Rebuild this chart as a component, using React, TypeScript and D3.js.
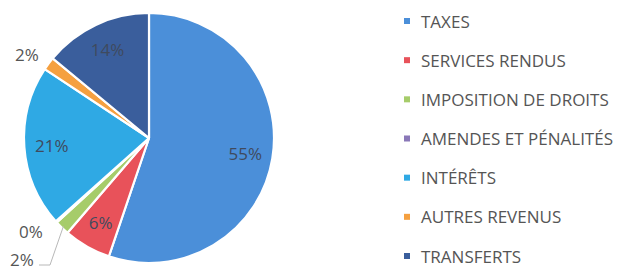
import React from "react";
import * as d3 from "d3";

const categories = [
  "TAXES",
  "SERVICES RENDUS",
  "IMPOSITION DE DROITS",
  "AMENDES ET PÉNALITÉS",
  "INTÉRÊTS",
  "AUTRES REVENUS",
  "TRANSFERTS",
];
const values = [55.2, 6.1, 1.9, 0.2, 20.9, 1.7, 14.0];
const labels = ["55%", "6%", "2%", "0%", "21%", "2%", "14%"];
const colors = ["#4B8FD9", "#E8525A", "#A6CC6A", "#8A78B8", "#2FA9E4", "#F5A040", "#3A5E9C"];

const W = 632;
const H = 270;
const cx = 149;
const cy = 138;
const R = 125;

export default function App() {
  const pie = d3.pie<number>().sort(null).value((d) => d);
  const arcs = pie(values);
  const arc = d3.arc<d3.PieArcDatum<number>>().innerRadius(0).outerRadius(R);
  const labelArc = d3.arc<d3.PieArcDatum<number>>().innerRadius(R * 0.78).outerRadius(R * 0.78);

  const outsidePos: Record<number, [number, number]> = {
    5: [27, 54],
    3: [31, 231],
    2: [22, 259],
  };

  const legendY = d3.scalePoint<number>().domain(d3.range(categories.length)).range([21, 256]);

  return (
    <svg width={W} height={H} style={{ position: "absolute", left: 0, top: 0, background: "#fff" }}
      fontFamily="'Open Sans', sans-serif">
      <g transform={`translate(${cx},${cy})`}>
        {arcs.map((a, i) => (
          <path key={i} d={arc(a) || ""} fill={colors[i]} stroke="#fff" strokeWidth={2.2} strokeLinejoin="round" />
        ))}
      </g>
      {(() => {
        const a = arcs[2];
        const mid = (a.startAngle + a.endAngle) / 2;
        const x0 = cx + Math.sin(mid) * (R - 2);
        const y0 = cy - Math.cos(mid) * (R - 2);
        const [lx, ly] = outsidePos[2];
        return (
          <polyline points={`${x0},${y0} ${lx + 28},${ly + 6} ${lx + 17},${ly + 6}`} fill="none" stroke="#b8b8b8" strokeWidth={1} />
        );
      })()}
      {arcs.map((a, i) => {
        let x: number, y: number;
        if (outsidePos[i]) {
          [x, y] = outsidePos[i];
        } else {
          const c = labelArc.centroid(a);
          x = cx + c[0];
          y = cy + c[1];
        }
        return (
          <text key={i} x={x} y={y} textAnchor="middle" dominantBaseline="central" fontSize={17}
            fill={outsidePos[i] ? "#555" : "#3f4a5e"}>
            {labels[i]}
          </text>
        );
      })}
      {categories.map((c, i) => (
        <g key={c} transform={`translate(404,${legendY(i)})`}>
          <rect x={0} y={-3} width={6} height={6} fill={colors[i]} />
          <text x={17} y={0} dominantBaseline="central" fontSize={17} fill="#555">
            {c}
          </text>
        </g>
      ))}
    </svg>
  );
}
